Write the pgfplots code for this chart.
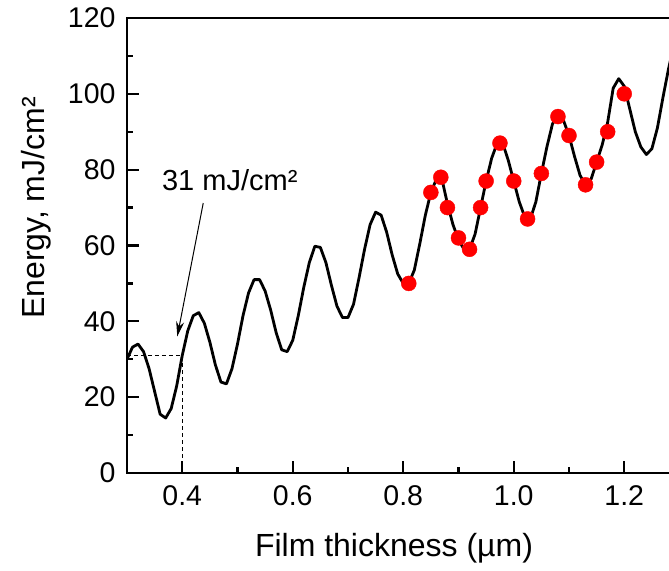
\documentclass[border=0pt]{standalone}
\usepackage{pgfplots}
\pgfplotsset{compat=1.18}
\usepackage{fontspec}
\setmainfont{Liberation Sans}
\usetikzlibrary{arrows.meta}
\begin{document}
\begin{tikzpicture}
\path[use as bounding box] (-127pt,-97pt) rectangle (542pt,473pt);
\begin{axis}[
  anchor=south west, at={(0pt,0pt)},
  scale only axis, width=552.5pt, height=455pt,
  xmin=0.3, xmax=1.3, ymin=0, ymax=120,
  xtick={0.4,0.6,0.8,1.0,1.2}, minor xtick={0.5,0.7,0.9,1.1,1.3},
  ytick={0,20,40,60,80,100,120}, minor ytick={10,30,50,70,90,110},
  tick align=inside, tick pos=left,
  major tick length=12pt, minor tick length=6pt,
  axis line style={line width=2.4pt},
  every tick/.style={line width=2.2pt, black},
  tick label style={font=\fontsize{28.5}{33}\selectfont},
  xticklabel style={yshift=-9pt, /pgf/number format/.cd, fixed, fixed zerofill, precision=1},
  yticklabel style={xshift=-8pt},
  /pgf/number format/assume math mode=true,
]
\addplot[black, line width=2.8pt, line join=round] coordinates {
(0.30,30.0) (0.31,33.2) (0.32,34.0) (0.33,32.0) (0.34,27.5) (0.35,21.5) (0.36,15.5) (0.37,14.5) (0.38,17.0) (0.39,23.0)
(0.40,31.0) (0.41,37.5) (0.42,41.5) (0.43,42.3) (0.44,39.5) (0.45,34.5) (0.46,28.5) (0.47,24.0) (0.48,23.5) (0.49,27.5)
(0.50,34.0) (0.51,41.5) (0.52,47.5) (0.53,51.0) (0.54,51.0) (0.55,48.0) (0.56,43.0) (0.57,37.0) (0.58,32.5) (0.59,32.0)
(0.60,35.0) (0.61,41.5) (0.62,49.0) (0.63,55.5) (0.64,59.8) (0.65,59.5) (0.66,55.5) (0.67,49.5) (0.68,44.0) (0.69,41.0)
(0.70,41.0) (0.71,44.5) (0.72,51.5) (0.73,59.0) (0.74,65.5) (0.75,68.8) (0.76,68.0) (0.77,63.5) (0.78,57.5) (0.79,52.5)
(0.80,50.0) (0.81,50.0) (0.82,53.5) (0.83,60.5) (0.84,68.0) (0.85,74.0) (0.86,77.5) (0.87,77.5) (0.88,71.0) (0.89,65.5)
(0.90,61.5) (0.91,59.0) (0.92,59.0) (0.93,63.0) (0.94,70.0) (0.95,77.0) (0.96,83.0) (0.97,87.0) (0.98,87.0) (0.99,82.5)
(1.00,77.0) (1.01,71.5) (1.02,67.5) (1.03,67.0) (1.04,71.5) (1.05,79.0) (1.06,86.0) (1.07,92.0) (1.08,95.0) (1.09,93.0)
(1.10,89.0) (1.11,83.5) (1.12,78.5) (1.13,76.0) (1.14,77.5) (1.15,82.0) (1.16,86.5) (1.17,92.5) (1.18,101.5) (1.19,104.0)
(1.20,102.0) (1.21,96.0) (1.22,90.0) (1.23,86.0) (1.24,84.0) (1.25,85.5) (1.26,91.0) (1.27,99.0) (1.28,106.5) (1.29,113.0)
};
\addplot[only marks, mark=*, mark size=7.5pt, color=red, mark options={fill=red, draw=red}] coordinates {
(0.81,50) (0.85,74) (0.868,78) (0.88,70) (0.90,62) (0.92,59) (0.94,70) (0.95,77) (0.975,87)
(1.00,77) (1.025,67) (1.05,79) (1.08,94) (1.10,89) (1.13,76) (1.15,82) (1.17,90) (1.20,100)
};
\addplot[black, line width=1.3pt, dash pattern=on 4pt off 3pt] coordinates {(0.3,31) (0.4,31) (0.4,0)};
\draw[line width=1pt, -{Stealth[length=15pt, width=8pt]}] (axis cs:0.438,71.2) -- (axis cs:0.391,36.0);
\node[font=\fontsize{29}{34}\selectfont] at (axis cs:0.486,77.3) {31 mJ/cm²};
\end{axis}
\node[font=\fontsize{32}{38}\selectfont] at (267pt,-75pt) {Film thickness (µm)};
\node[font=\fontsize{32}{38}\selectfont, rotate=90] at (-91pt,265pt) {Energy, mJ/cm²};
\end{tikzpicture}
\end{document}
